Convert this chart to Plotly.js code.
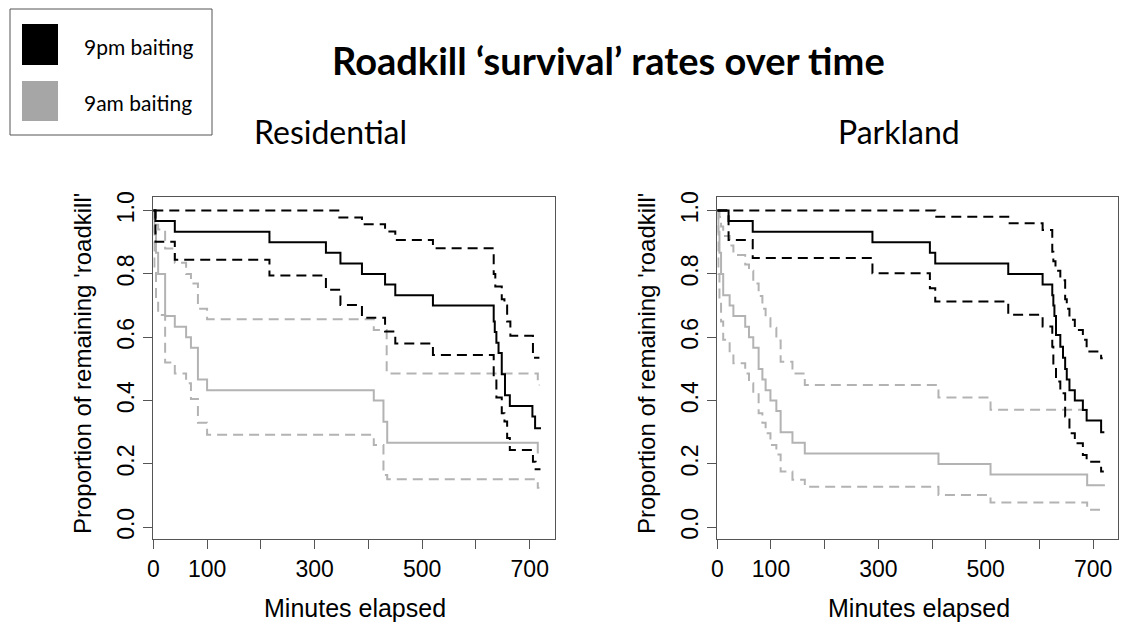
<!DOCTYPE html>
<html>
<head>
<meta charset="utf-8">
<script src="https://cdn.plot.ly/plotly-3.0.1.min.js"></script>
<style>
  html, body { margin: 0; padding: 0; background: #fff; }
  #chart { width: 1124px; height: 622px; }
</style>
</head>
<body>
<div id="chart"></div>
<script>
// ---------------- DATA ----------------
const panelTitles = ['Residential', 'Parkland'];
const seriesNames = ['9pm baiting', '9am baiting'];

const xTickVals = [0, 100, 200, 300, 400, 500, 600, 700];
const xTickText = ['0', '100', '', '300', '', '500', '', '700'];
const yTickVals = [0, 0.2, 0.4, 0.6, 0.8, 1.0];
const yTickText = ['0.0', '0.2', '0.4', '0.6', '0.8', '1.0'];

// Residential, 9pm baiting (black)
const resPmT   = [0, 4, 40, 216, 321, 348, 388, 431, 450, 520, 633, 635, 638, 642, 648, 654, 663, 705, 710, 721];
const resPmS   = [1.0, 0.967, 0.933, 0.9, 0.867, 0.833, 0.8, 0.767, 0.733, 0.7, 0.65, 0.617, 0.583, 0.55, 0.483, 0.417, 0.383, 0.35, 0.313, 0.313];
const resPmUpT = [0, 346, 388, 431, 450, 520, 633, 636, 648, 653, 658, 664, 706, 718];
const resPmUp  = [1.0, 0.978, 0.957, 0.934, 0.907, 0.881, 0.80, 0.76, 0.72, 0.70, 0.65, 0.605, 0.535, 0.535];
const resPmLoT = [0, 4, 40, 216, 321, 348, 388, 431, 450, 520, 633, 638, 648, 653, 658, 663, 706, 711, 720];
const resPmLo  = [1.0, 0.902, 0.845, 0.795, 0.75, 0.702, 0.662, 0.618, 0.58, 0.544, 0.476, 0.41, 0.36, 0.334, 0.282, 0.244, 0.207, 0.183, 0.183];

// Residential, 9am baiting (grey)
const resAmT   = [0, 2, 5, 9, 22, 40, 61, 70, 83, 100, 410, 428, 435, 715];
const resAmS   = [1.0, 0.933, 0.867, 0.8, 0.667, 0.633, 0.6, 0.567, 0.467, 0.433, 0.4, 0.333, 0.267, 0.233];
const resAmUpT = [0, 2, 5, 9, 22, 40, 61, 70, 83, 100, 410, 434, 715, 718];
const resAmUp  = [1.0, 0.975, 0.955, 0.94, 0.88, 0.835, 0.80, 0.77, 0.69, 0.657, 0.623, 0.486, 0.449, 0.449];
const resAmLoT = [0, 2, 5, 9, 22, 40, 61, 70, 83, 100, 410, 428, 435, 715, 718];
const resAmLo  = [1.0, 0.82, 0.72, 0.67, 0.52, 0.486, 0.455, 0.405, 0.33, 0.292, 0.26, 0.165, 0.152, 0.125, 0.125];

// Parkland, 9pm baiting (black)
const parPmT   = [0, 21, 66, 289, 396, 406, 542, 606, 624, 626, 628, 631, 639, 644, 648, 651, 656, 666, 681, 688, 715, 721];
const parPmS   = [1.0, 0.967, 0.933, 0.9, 0.867, 0.833, 0.8, 0.767, 0.733, 0.7, 0.667, 0.607, 0.57, 0.535, 0.5, 0.467, 0.433, 0.4, 0.37, 0.337, 0.3, 0.3];
const parPmUpT = [0, 406, 542, 606, 624, 626, 630, 639, 648, 651, 656, 666, 681, 688, 715, 718];
const parPmUp  = [1.0, 0.981, 0.96, 0.939, 0.87, 0.84, 0.81, 0.78, 0.72, 0.69, 0.655, 0.623, 0.592, 0.555, 0.534, 0.534];
const parPmLoT = [0, 21, 66, 289, 396, 406, 542, 606, 624, 626, 631, 639, 648, 656, 666, 681, 688, 715, 720];
const parPmLo  = [1.0, 0.907, 0.85, 0.802, 0.755, 0.713, 0.671, 0.634, 0.57, 0.51, 0.46, 0.423, 0.35, 0.297, 0.265, 0.228, 0.207, 0.176, 0.176];

// Parkland, 9am baiting (grey)
const parAmT   = [0, 2, 4, 7, 11, 23, 30, 52, 59, 67, 77, 84, 90, 99, 110, 118, 140, 163, 412, 509, 689, 722];
const parAmS   = [1.0, 0.933, 0.867, 0.8, 0.733, 0.7, 0.667, 0.633, 0.6, 0.567, 0.5, 0.467, 0.433, 0.4, 0.367, 0.3, 0.267, 0.233, 0.2, 0.167, 0.133, 0.133];
const parAmUpT = [0, 4, 7, 11, 23, 30, 52, 59, 67, 77, 84, 90, 99, 110, 118, 140, 163, 412, 509, 690];
const parAmUp  = [1.0, 0.98, 0.95, 0.92, 0.89, 0.86, 0.83, 0.81, 0.77, 0.73, 0.69, 0.66, 0.63, 0.59, 0.523, 0.486, 0.449, 0.41, 0.371, 0.371];
const parAmLoT = [0, 2, 4, 7, 11, 23, 30, 52, 59, 67, 77, 84, 90, 99, 110, 118, 140, 163, 412, 509, 689, 716];
const parAmLo  = [1.0, 0.8, 0.72, 0.65, 0.592, 0.55, 0.518, 0.486, 0.455, 0.42, 0.36, 0.33, 0.297, 0.26, 0.23, 0.176, 0.15, 0.128, 0.102, 0.078, 0.055, 0.055];

// ---------------- STYLE ----------------
const W = 1124, H = 622;
const BLACK = '#000000';
const GREY = '#b3b3b3';
const LEG_GREY = '#a6a6a6';
const DASH = '10px,6px';
const AX = '#555555';
const px = v => v / W;           // horizontal pixel -> paper
const py = v => 1 - v / H;       // vertical pixel -> paper

function step(x, y, color, dash, xa, ya, width) {
  return {
    x: x, y: y, type: 'scatter', mode: 'lines',
    line: { color: color, width: width || 2, shape: 'hv', dash: dash || 'solid' },
    xaxis: xa, yaxis: ya, showlegend: false, hoverinfo: 'skip'
  };
}

const traces = [
  // Residential
  step(resAmT, resAmS, GREY, 'solid', 'x', 'y', 2),
  step(resAmUpT, resAmUp, GREY, DASH, 'x', 'y', 2),
  step(resAmLoT, resAmLo, GREY, DASH, 'x', 'y', 2),
  step(resPmT, resPmS, BLACK, 'solid', 'x', 'y', 2),
  step(resPmUpT, resPmUp, BLACK, DASH, 'x', 'y', 2),
  step(resPmLoT, resPmLo, BLACK, DASH, 'x', 'y', 2),
  // Parkland
  step(parAmT, parAmS, GREY, 'solid', 'x2', 'y2', 2),
  step(parAmUpT, parAmUp, GREY, DASH, 'x2', 'y2', 2),
  step(parAmLoT, parAmLo, GREY, DASH, 'x2', 'y2', 2),
  step(parPmT, parPmS, BLACK, 'solid', 'x2', 'y2', 2),
  step(parPmUpT, parPmUp, BLACK, DASH, 'x2', 'y2', 2),
  step(parPmLoT, parPmLo, BLACK, DASH, 'x2', 'y2', 2)
];

const ARIAL = '"Liberation Sans", Arial, Helvetica, sans-serif';
const tickFont = { family: ARIAL, size: 23, color: '#000' };
function xAxis(domain, anchor) {
  return {
    domain: domain, anchor: anchor, range: [0, 747], fixedrange: true,
    tickmode: 'array', tickvals: xTickVals, ticktext: xTickText,
    ticks: 'outside', ticklen: 9, tickwidth: 1, tickcolor: AX,
    showline: true, mirror: true, linecolor: AX, linewidth: 1,
    showgrid: false, zeroline: false, tickfont: tickFont
  };
}
function yAxis(anchor) {
  return {
    domain: [py(539), py(197)], anchor: anchor, range: [-0.037, 1.043], fixedrange: true,
    tickmode: 'array', tickvals: yTickVals, ticktext: yTickText, tickangle: -90,
    ticks: 'outside', ticklen: 9, tickwidth: 1, tickcolor: AX,
    showline: true, mirror: true, linecolor: AX, linewidth: 1,
    showgrid: false, zeroline: false, tickfont: tickFont
  };
}

const titleFont = { family: ARIAL, size: 24, color: '#000' };
const xTitleFont = { family: ARIAL, size: 25, color: '#000' };
const calFont = 'Lato, Carlito, Calibri, sans-serif';

const annotations = [
  { text: '<b>Roadkill \u2018survival\u2019 rates over time</b>', x: px(608), y: py(60),
    font: { family: calFont, size: 38, color: '#000' } },
  { text: panelTitles[0], x: px(330), y: py(131), font: { family: calFont, size: 32, color: '#000' } },
  { text: panelTitles[1], x: px(899), y: py(131), font: { family: calFont, size: 32, color: '#000' } },
  { text: 'Minutes elapsed', x: px(355), y: py(608), font: xTitleFont },
  { text: 'Minutes elapsed', x: px(919), y: py(608), font: xTitleFont },
  { text: "Proportion of remaining 'roadkill'", x: px(82), y: py(364), textangle: -90, font: titleFont },
  { text: "Proportion of remaining 'roadkill'", x: px(646), y: py(364), textangle: -90, font: titleFont },
  { text: seriesNames[0], x: px(82), y: py(46), xanchor: 'left', font: { family: calFont, size: 21, color: '#000' } },
  { text: seriesNames[1], x: px(82), y: py(102), xanchor: 'left', font: { family: calFont, size: 21, color: '#000' } }
].map(a => Object.assign({ xref: 'paper', yref: 'paper', showarrow: false, xanchor: 'center', yanchor: 'middle' }, a));

const shapes = [
  { type: 'rect', xref: 'paper', yref: 'paper', x0: px(10), x1: px(212), y0: py(9), y1: py(135),
    line: { color: '#555', width: 1 }, fillcolor: 'rgba(0,0,0,0)' },
  { type: 'rect', xref: 'paper', yref: 'paper', x0: px(22), x1: px(58), y0: py(24), y1: py(65),
    line: { width: 0 }, fillcolor: BLACK },
  { type: 'rect', xref: 'paper', yref: 'paper', x0: px(22), x1: px(58), y0: py(81), y1: py(121),
    line: { width: 0 }, fillcolor: LEG_GREY }
];

const layout = {
  width: W, height: H,
  margin: { l: 0, r: 0, t: 0, b: 0 },
  paper_bgcolor: '#fff', plot_bgcolor: '#fff',
  showlegend: false,
  xaxis: xAxis([px(153.3), px(555)], 'y'),
  yaxis: yAxis('x'),
  xaxis2: xAxis([px(717.3), px(1118.3)], 'y2'),
  yaxis2: yAxis('x2'),
  annotations: annotations,
  shapes: shapes
};

Plotly.newPlot('chart', traces, layout, { displayModeBar: false, staticPlot: true });
</script>
</body>
</html>
